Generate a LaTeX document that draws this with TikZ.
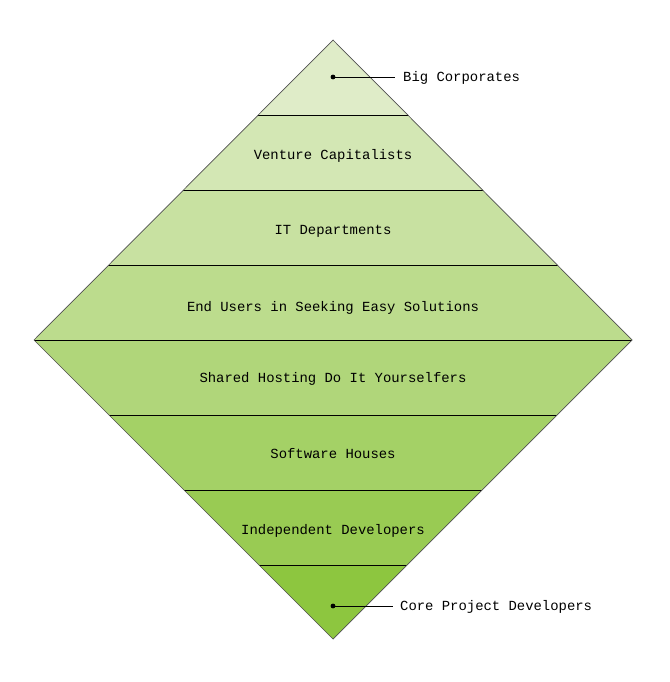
\documentclass[tikz,border=0pt]{standalone}
\usepackage{fontspec}
\setmonofont{Liberation Mono}
\definecolor{c0}{RGB}{223,236,200}
\definecolor{c1}{RGB}{211,231,180}
\definecolor{c2}{RGB}{200,225,161}
\definecolor{c3}{RGB}{188,220,141}
\definecolor{c4}{RGB}{176,214,122}
\definecolor{c5}{RGB}{164,209,102}
\definecolor{c6}{RGB}{153,203,83}
\definecolor{c7}{RGB}{141,198,63}
\definecolor{edge}{RGB}{80,80,80}
\begin{document}
\begin{tikzpicture}[x=1pt,y=-1pt,
  lbl/.style={font=\ttfamily\fontsize{13.9}{15}\selectfont, inner sep=0pt},
  sep/.style={black, line width=0.9pt},
  leader/.style={black, line width=0.8pt}]
\useasboundingbox (0,0) rectangle (669,682);
\coordinate (T) at (333,40);
\coordinate (R) at (632,340);
\coordinate (B) at (333,639);
\coordinate (L) at (34,340);
\begin{scope}
\clip (T)--(R)--(B)--(L)--cycle;
\foreach \i in {0,...,7}{
  \fill[c\i] (20,{40+75*\i}) rectangle (650,{115+75*\i});
}
\foreach \y in {115,190,265,340,415,490,565}{
  \draw[sep] (20,\y) -- (650,\y);
}
\end{scope}
\draw[edge, line width=0.7pt] (T)--(R)--(B)--(L)--cycle;
\node[lbl] (n1) at (333,155.5) {Venture Capitalists};
\node[lbl] (n2) at (333,231.5) {IT Departments};
\node[lbl] (n3) at (333,307.5) {End Users in Seeking Easy Solutions};
\node[lbl] (n4) at (333,378.5) {Shared Hosting Do It Yourselfers};
\node[lbl] (n5) at (333,453.5) {Software Houses};
\node[lbl] (n6) at (333,530.5) {Independent Developers};
\node[lbl, anchor=west] (n0) at (403,78) {Big Corporates};
\node[lbl, anchor=west] (n7) at (400,607) {Core Project Developers};
\coordinate (d0) at (333,77);
\coordinate (d7) at (333,606);
\fill (d0) circle (2.4);
\fill (d7) circle (2.4);
\draw[leader] (d0) -- (395,77);
\draw[leader] (d7) -- (393,606);
\end{tikzpicture}
\end{document}
